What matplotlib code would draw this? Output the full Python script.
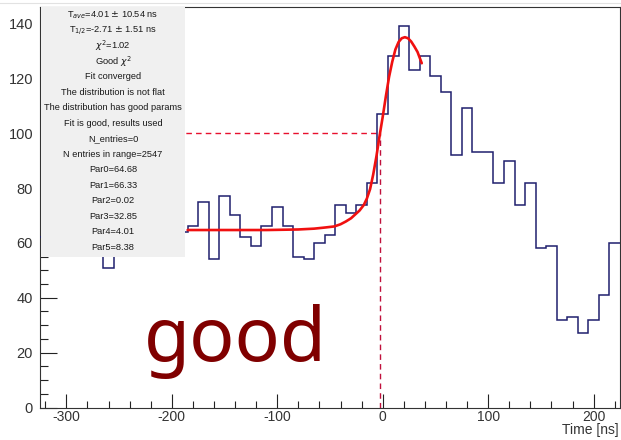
import numpy as np
import matplotlib
matplotlib.use("Agg")
import matplotlib.pyplot as plt
from matplotlib.ticker import MultipleLocator

plt.rcParams["axes.unicode_minus"] = False

# ---- histogram: 10 ns bins from -325 to 225 ns ----
bin_lo, bin_hi, bin_w = -325, 225, 10
counts = [62, 66, 60, 68, 63, 65, 51, 64, 67, 61, 66, 63, 62,
          64, 66, 75, 54, 77, 70, 62, 59, 66, 73, 66, 55, 54,
          60, 63, 74, 71, 74, 82, 107, 128, 139, 123, 128, 121, 115,
          92, 109, 93, 93, 82, 90, 74, 82, 58, 59, 32, 33, 27,
          32, 41, 60]

# ---- fitted curve, sampled along the fit range ----
fit_t = [-185, -150, -110, -80, -65, -55, -46, -40, -35, -30, -26, -22,
         -18, -15, -12, -9, -6, -3, 0, 3, 6, 9, 12, 15, 18, 21, 24, 27,
         30, 33, 37]
fit_v = [64.7, 64.7, 64.7, 64.9, 65.2, 65.6, 66.0, 66.8, 67.8, 69.0, 70.4,
         71.8, 73.8, 76.2, 79.6, 85.0, 91.5, 99.0, 106.0, 113.5, 120.5,
         126.0, 130.5, 133.2, 134.6, 135.0, 134.6, 133.4, 131.6, 129.6, 125.5]

t_half = -2.71
half_level = 100

stats_lines = [
    r"T$_{ave}$=4.01 $\pm$ 10.54 ns",
    r"T$_{1/2}$=-2.71 $\pm$ 1.51 ns",
    r"$\chi^{2}$=1.02",
    r"Good $\chi^{2}$",
    "Fit converged",
    "The distribution is not flat",
    "The distribution has good params",
    "Fit is good, results used",
    "N_entries=0",
    "N entries in range=2547",
    "Par0=64.68",
    "Par1=66.33",
    "Par2=0.02",
    "Par3=32.85",
    "Par4=4.01",
    "Par5=8.38",
]

W, H = 621, 440
fig = plt.figure(figsize=(W / 100, H / 100), dpi=100)
fig.patch.set_facecolor("white")

def fx(px):
    return px / W

def fy(py):
    return 1 - py / H

ax = fig.add_axes([fx(40), fy(407.5), fx(620) - fx(40), fy(7) - fy(407.5)])

edges = np.arange(bin_lo, bin_hi + bin_w / 2, bin_w)
ax.stairs(counts, edges, baseline=None, color="#1f1f6e", lw=1.1, zorder=3)
ax.plot(fit_t, fit_v, color="#f01010", lw=1.9, zorder=4, solid_capstyle="round")

ax.plot([bin_lo, t_half], [half_level, half_level], color="#e8102e", lw=1.0,
        ls=(0, (4, 3)), zorder=2)
ax.plot([t_half, t_half], [0, half_level], color="#c0103c", lw=1.0,
        ls=(0, (4, 3)), zorder=2)

ax.set_xlim(bin_lo, bin_hi)
ax.set_ylim(0, 146)

ax.xaxis.set_major_locator(MultipleLocator(100))
ax.xaxis.set_minor_locator(MultipleLocator(20))
ax.yaxis.set_major_locator(MultipleLocator(20))
ax.yaxis.set_minor_locator(MultipleLocator(5))

ax.tick_params(axis="both", which="both", direction="in", colors="#222222",
               labelcolor="#333333", top=False, right=False, width=0.8)
ax.tick_params(axis="y", which="major", length=12, pad=5, labelsize=10.5)
ax.tick_params(axis="y", which="minor", length=6)
ax.tick_params(axis="x", which="major", length=10, pad=2, labelsize=10)
ax.tick_params(axis="x", which="minor", length=5)
for lab in ax.get_xticklabels() + ax.get_yticklabels():
    lab.set_family("Liberation Sans")
for sp in ax.spines.values():
    sp.set_color("#333333")
    sp.set_linewidth(0.8)

fig.text(fx(619), fy(437), "Time [ns]", ha="right", va="bottom",
         fontsize=10, family="Liberation Sans", color="#333333")

# statistics panel over the upper left of the frame
box = fig.add_axes([fx(41), fy(257), fx(185) - fx(41), fy(7.5) - fy(257)])
box.set_facecolor("#f0f0f0")
box.set_xticks([])
box.set_yticks([])
for sp in box.spines.values():
    sp.set_visible(False)
box.set_xlim(0, 1)
box.set_ylim(257, 7.5)
for i, line in enumerate(stats_lines):
    box.text(0.5, 15 + i * 15.47, line, ha="center", va="center",
             fontsize=6.7, family="Liberation Sans", color="#1a1a1a")

fig.text(fx(144), fy(361), "good", ha="left", va="baseline",
         fontsize=54, family=["Noto Sans", "DejaVu Sans"], color="#800000")

fig.add_artist(plt.Line2D([0, 1], [fy(3), fy(3)], color="#e2e2e2", lw=0.8))

fig.savefig("out.png", dpi=100)
